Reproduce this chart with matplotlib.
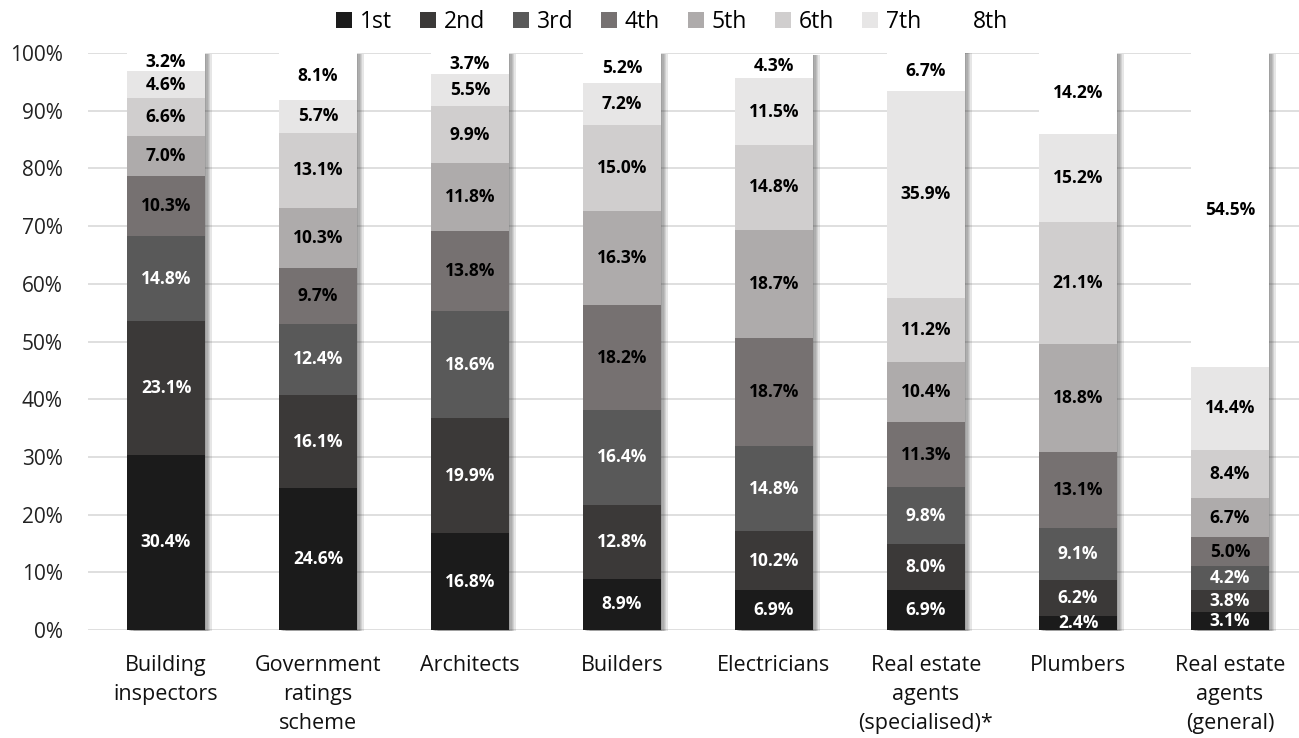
import matplotlib
matplotlib.use("Agg")
import matplotlib.pyplot as plt
import matplotlib.patheffects as pe
from matplotlib.patches import Patch
import numpy as np

categories = [
    "Building\ninspectors",
    "Government\nratings\nscheme",
    "Architects",
    "Builders",
    "Electricians",
    "Real estate\nagents\n(specialised)*",
    "Plumbers",
    "Real estate\nagents\n(general)",
]
rank_labels = ["1st", "2nd", "3rd", "4th", "5th", "6th", "7th", "8th"]

# share (%) of respondents giving each rank, per category
rank_1st = [30.4, 24.6, 16.8, 8.9, 6.9, 6.9, 2.4, 3.1]
rank_2nd = [23.1, 16.1, 19.9, 12.8, 10.2, 8.0, 6.2, 3.8]
rank_3rd = [14.8, 12.4, 18.6, 16.4, 14.8, 9.8, 9.1, 4.2]
rank_4th = [10.3, 9.7, 13.8, 18.2, 18.7, 11.3, 13.1, 5.0]
rank_5th = [7.0, 10.3, 11.8, 16.3, 18.7, 10.4, 18.8, 6.7]
rank_6th = [6.6, 13.1, 9.9, 15.0, 14.8, 11.2, 21.1, 8.4]
rank_7th = [4.6, 5.7, 5.5, 7.2, 11.5, 35.9, 15.2, 14.4]
rank_8th = [3.2, 8.1, 3.7, 5.2, 4.3, 6.7, 14.2, 54.5]

series = [rank_1st, rank_2nd, rank_3rd, rank_4th, rank_5th, rank_6th, rank_7th, rank_8th]
colors = ["#1b1b1b", "#3b3938", "#595959", "#767171", "#aeabab", "#d0cece", "#e7e6e6", "#ffffff"]
text_colors = ["white", "white", "white", "black", "black", "black", "black", "black"]

FONT = "Open Sans"
plt.rcParams["font.family"] = [FONT, "DejaVu Sans"]

fig = plt.figure(figsize=(12.99, 7.38), dpi=100)
ax = fig.add_axes([88 / 1299, 1 - 630 / 738, 1 - 88 / 1299, (630 - 53) / 738])

x = np.arange(len(categories))
width = 0.51
totals = np.sum(np.array(series), axis=0)

# whole-bar backing with a soft, graded drop shadow on the right
shadow = [pe.SimplePatchShadow(offset=(k, -1), shadow_rgbFace="#444444", alpha=0.13)
          for k in (5, 4, 3, 2, 1)]
ax.bar(x, totals, width, color="white", zorder=2, clip_on=False,
       path_effects=shadow + [pe.Normal()])

bottom = np.zeros(len(categories))
for vals, col, tcol in zip(series, colors, text_colors):
    vals = np.array(vals)
    ax.bar(x, vals, width, bottom=bottom, color=col, zorder=3, clip_on=False, linewidth=0)
    for xi, b, v in zip(x, bottom, vals):
        ax.text(xi, b + v / 2, f"{v:.1f}%", ha="center", va="center",
                color=tcol, fontsize=12.5, fontweight="bold", zorder=4)
    bottom += vals

ax.set_ylim(0, 100)
ax.set_xlim(-0.513, 7.454)
ax.set_yticks(np.arange(0, 101, 10))
ax.set_yticklabels([f"{t}%" for t in range(0, 101, 10)], fontsize=15, color="#222222")
ax.set_xticks(x)
ax.set_xticklabels(categories, fontsize=15.5, color="#111111", linespacing=1.5)
ax.tick_params(axis="y", length=0, pad=18)
ax.tick_params(axis="x", length=0, pad=18)
ax.grid(axis="y", color="#d9d9d9", linewidth=1.2, zorder=0)
ax.set_axisbelow(True)
for s in ax.spines.values():
    s.set_visible(False)

handles = [Patch(facecolor=c, edgecolor="none") for c in colors]
fig.legend(handles, rank_labels, loc="center", bbox_to_anchor=(672 / 1299, 1 - 22 / 738),
           ncol=8, frameon=False, fontsize=16.5, handlelength=0.7, handleheight=0.7,
           handletextpad=0.35, columnspacing=1.2)

fig.savefig("out.png", dpi=100)
